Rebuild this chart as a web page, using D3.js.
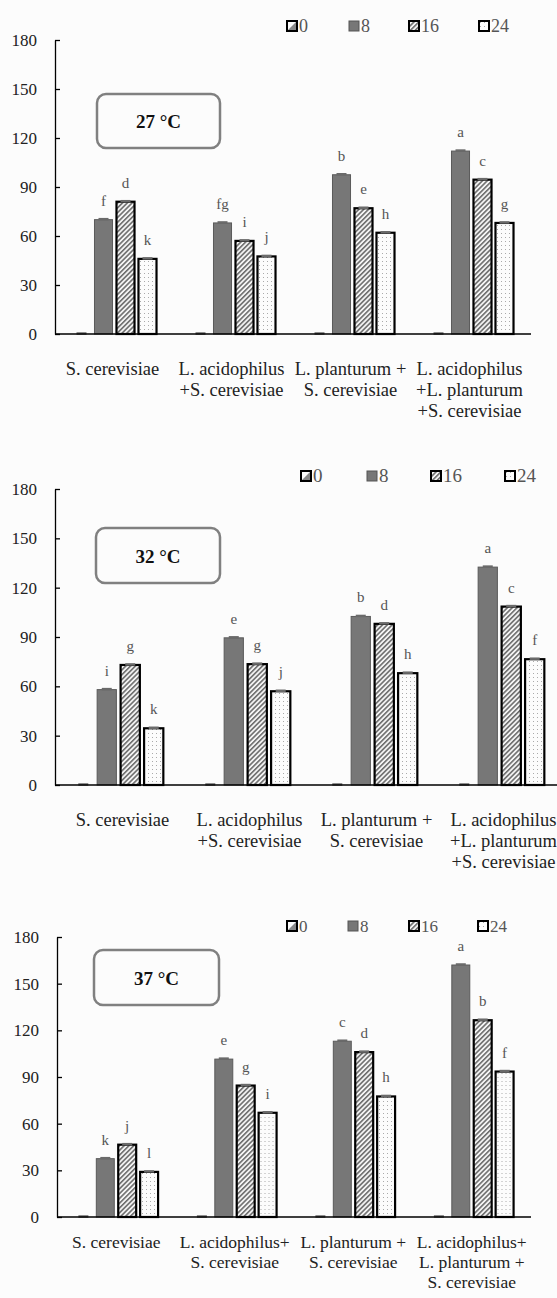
<!DOCTYPE html>
<html><head><meta charset="utf-8">
<script src="https://cdn.jsdelivr.net/npm/d3@7"></script>
<style>
body{margin:0;background:#fcfcfc;} svg{display:block;}
svg text{font-family:"Liberation Serif","DejaVu Serif","Times New Roman",Times,serif;}
</style>
</head><body>
<svg id="chart" width="557" height="1298"></svg>
<script>
// ---------- data ----------
const seriesKeys = ["0", "8", "16", "24"];
const yTicks = [0, 30, 60, 90, 120, 150, 180];
const categoryKeys = ["SC", "LA+SC", "LP+SC", "LA+LP+SC"];
const labelsTop = [["S. cerevisiae"], ["L. acidophilus", "+S. cerevisiae"], ["L. planturum +", "S. cerevisiae"], ["L. acidophilus", "+L. planturum", "+S. cerevisiae"]];
const labelsBottom = [["S. cerevisiae"], ["L. acidophilus+", "S. cerevisiae"], ["L. planturum +", "S. cerevisiae"], ["L. acidophilus+", "L. planturum +", "S. cerevisiae"]];
const panelTitles = ["27 °C", "32 °C", "37 °C"];

const v27_h0 = [0, 0, 0, 0];
const v27_h8 = [70, 68, 97.5, 112];
const v27_h16 = [81, 57, 77, 94.5];
const v27_h24 = [46, 47.5, 62, 68];
const l27_h8 = ["f", "fg", "b", "a"];
const l27_h16 = ["d", "i", "e", "c"];
const l27_h24 = ["k", "j", "h", "g"];

const v32_h0 = [0, 0, 0, 0];
const v32_h8 = [58, 89.5, 102.5, 132.5];
const v32_h16 = [73, 73.5, 98, 108.5];
const v32_h24 = [34.5, 57, 68, 76.5];
const l32_h8 = ["i", "e", "b", "a"];
const l32_h16 = ["g", "g", "d", "c"];
const l32_h24 = ["k", "j", "h", "f"];

const v37_h0 = [0, 0, 0, 0];
const v37_h8 = [37.5, 101.5, 113, 162];
const v37_h16 = [46.5, 84.5, 106, 126.5];
const v37_h24 = [29, 67, 77.5, 93.5];
const l37_h8 = ["k", "e", "c", "a"];
const l37_h16 = ["j", "g", "d", "b"];
const l37_h24 = ["l", "i", "h", "f"];

// ---------- layout ----------
const panels = [
  {title: panelTitles[0], vals: [v27_h0, v27_h8, v27_h16, v27_h24], lets: [[], l27_h8, l27_h16, l27_h24], labels: labelsTop,
   xl: 55, xr: 531, yt: 40, yb: 334, lab: {dy: 41, lh: 21, fs: 18.5, sx: -2},
   box: [97, 94, 123, 54], legend: {y: 26, xs: [287, 349, 409, 479], fs: 18}},
  {title: panelTitles[1], vals: [v32_h0, v32_h8, v32_h16, v32_h24], lets: [[], l32_h8, l32_h16, l32_h24], labels: labelsTop,
   xl: 55, xr: 563, yt: 489, yb: 785, lab: {dy: 41, lh: 21, fs: 18.5, sx: 4},
   box: [96, 528, 124, 55], legend: {y: 476, xs: [301, 367, 431, 505], fs: 19}},
  {title: panelTitles[2], vals: [v37_h0, v37_h8, v37_h16, v37_h24], lets: [[], l37_h8, l37_h16, l37_h24], labels: labelsBottom,
   xl: 57, xr: 531, yt: 937, yb: 1217, lab: {dy: 31, lh: 20, fs: 17.5, sx: 0},
   box: [94, 950, 125, 55], legend: {y: 926, xs: [287, 348, 409, 478], fs: 17}}
];

const svg = d3.select("#chart");
svg.append("rect").attr("width", 557).attr("height", 1298).attr("fill", "#fcfcfc");

// patterns
const defs = svg.append("defs");
const ph = defs.append("pattern").attr("id", "hatch").attr("patternUnits", "userSpaceOnUse")
  .attr("width", 3.4).attr("height", 3.4).attr("patternTransform", "rotate(45)");
ph.append("rect").attr("width", 3.4).attr("height", 3.4).attr("fill", "#f4f4f4");
ph.append("line").attr("x1", 0.8).attr("y1", 0).attr("x2", 0.8).attr("y2", 3.4).attr("stroke", "#5a5a5a").attr("stroke-width", 1.4);
const pd = defs.append("pattern").attr("id", "dots").attr("patternUnits", "userSpaceOnUse")
  .attr("width", 4).attr("height", 4);
pd.append("rect").attr("width", 4).attr("height", 4).attr("fill", "#fcfcfc");
pd.append("rect").attr("x", 1).attr("y", 1).attr("width", 1).attr("height", 1).attr("fill", "#aaa");

const fills = {"0": "url(#hatch)", "8": "#777777", "16": "url(#hatch)", "24": "url(#dots)"};
const strokes = {"0": "#000", "8": "#5a5a5a", "16": "#000", "24": "#000"};
const strokeW = {"0": 2.2, "8": 1, "16": 2.2, "24": 2.2};

panels.forEach(p => {
  const g = svg.append("g");
  const y = d3.scaleLinear().domain([0, 180]).range([p.yb, p.yt]);
  const x0 = d3.scaleBand().domain(categoryKeys).range([p.xl, p.xr]).paddingInner(0).paddingOuter(0);
  const x1 = d3.scaleBand().domain(seriesKeys).range([0, x0.bandwidth()]).paddingInner(0.18).paddingOuter(0.795);

  // y axis
  const ax = g.append("g").attr("transform", `translate(${p.xl},0)`)
    .call(d3.axisLeft(y).tickValues(yTicks).tickSizeInner(-5).tickSizeOuter(0).tickPadding(18));
  ax.attr("font-family", null);
  ax.select(".domain").attr("stroke", "#000").attr("stroke-width", 1.3);
  ax.selectAll(".tick line").attr("stroke", "#000").attr("stroke-width", 1.3);
  ax.selectAll(".tick text").attr("font-size", 17).attr("fill", "#222");

  // bars
  categoryKeys.forEach((c, ci) => {
    const gg = g.append("g").attr("transform", `translate(${x0(c)},0)`);
    seriesKeys.forEach((s, si) => {
      const v = p.vals[si][ci];
      const bx = x1(s), bw = x1.bandwidth();
      if (v > 0) {
        gg.append("rect").attr("x", bx).attr("y", y(v)).attr("width", bw).attr("height", y(0) - y(v))
          .attr("fill", fills[s]).attr("stroke", strokes[s]).attr("stroke-width", strokeW[s]);
      }
      // error cap
      gg.append("line").attr("x1", bx + bw / 2 - 5).attr("x2", bx + bw / 2 + 5)
        .attr("y1", y(v) - 0.5).attr("y2", y(v) - 0.5).attr("stroke", "#6a6a6a").attr("stroke-width", 2.5);
      const lt = p.lets[si][ci];
      if (lt) {
        gg.append("text").attr("x", bx + bw / 2).attr("y", y(v) - 14).attr("text-anchor", "middle")
          .attr("font-size", 15).attr("fill", "#555").text(lt);
      }
    });
    // category label
    const t = g.append("text").attr("text-anchor", "middle")
      .attr("font-size", p.lab.fs).attr("fill", "#222");
    p.labels[ci].forEach((line, li) => {
      t.append("tspan").attr("x", x0(c) + x0.bandwidth() / 2 + p.lab.sx).attr("y", p.yb + p.lab.dy + li * p.lab.lh).text(line);
    });
  });

  // x axis line
  g.append("line").attr("x1", p.xl).attr("x2", p.xr).attr("y1", y(0)).attr("y2", y(0))
    .attr("stroke", "#000").attr("stroke-width", 1.5);

  // title box
  g.append("rect").attr("x", p.box[0]).attr("y", p.box[1]).attr("width", p.box[2]).attr("height", p.box[3])
    .attr("rx", 9).attr("fill", "#fcfcfc").attr("stroke", "#808080").attr("stroke-width", 2.5);
  g.append("text").attr("x", p.box[0] + p.box[2] / 2).attr("y", p.box[1] + p.box[3] / 2 + 7)
    .attr("text-anchor", "middle").attr("font-weight", "bold")
    .attr("font-size", 19).attr("fill", "#111").text(p.title);

  // legend
  seriesKeys.forEach((s, si) => {
    const lx = p.legend.xs[si], ly = p.legend.y;
    const lg = g.append("g").attr("transform", `translate(${lx},${ly - 5})`);
    if (s === "0") {
      lg.append("rect").attr("width", 10).attr("height", 10).attr("fill", "#fcfcfc");
      lg.append("path").attr("d", "M0,10L10,0L10,10Z").attr("fill", "#888");
      lg.append("rect").attr("width", 10).attr("height", 10).attr("fill", "none").attr("stroke", "#000").attr("stroke-width", 2);
    } else if (s === "8") {
      lg.append("rect").attr("width", 10).attr("height", 10).attr("fill", "#777").attr("stroke", "#555").attr("stroke-width", 1);
    } else {
      lg.append("rect").attr("width", 10).attr("height", 10).attr("fill", fills[s]).attr("stroke", "#000").attr("stroke-width", 2);
    }
    g.append("text").attr("x", lx + 12).attr("y", ly + 6)
      .attr("font-size", p.legend.fs).attr("fill", "#555").text(s);
  });
});
</script>
</body></html>
